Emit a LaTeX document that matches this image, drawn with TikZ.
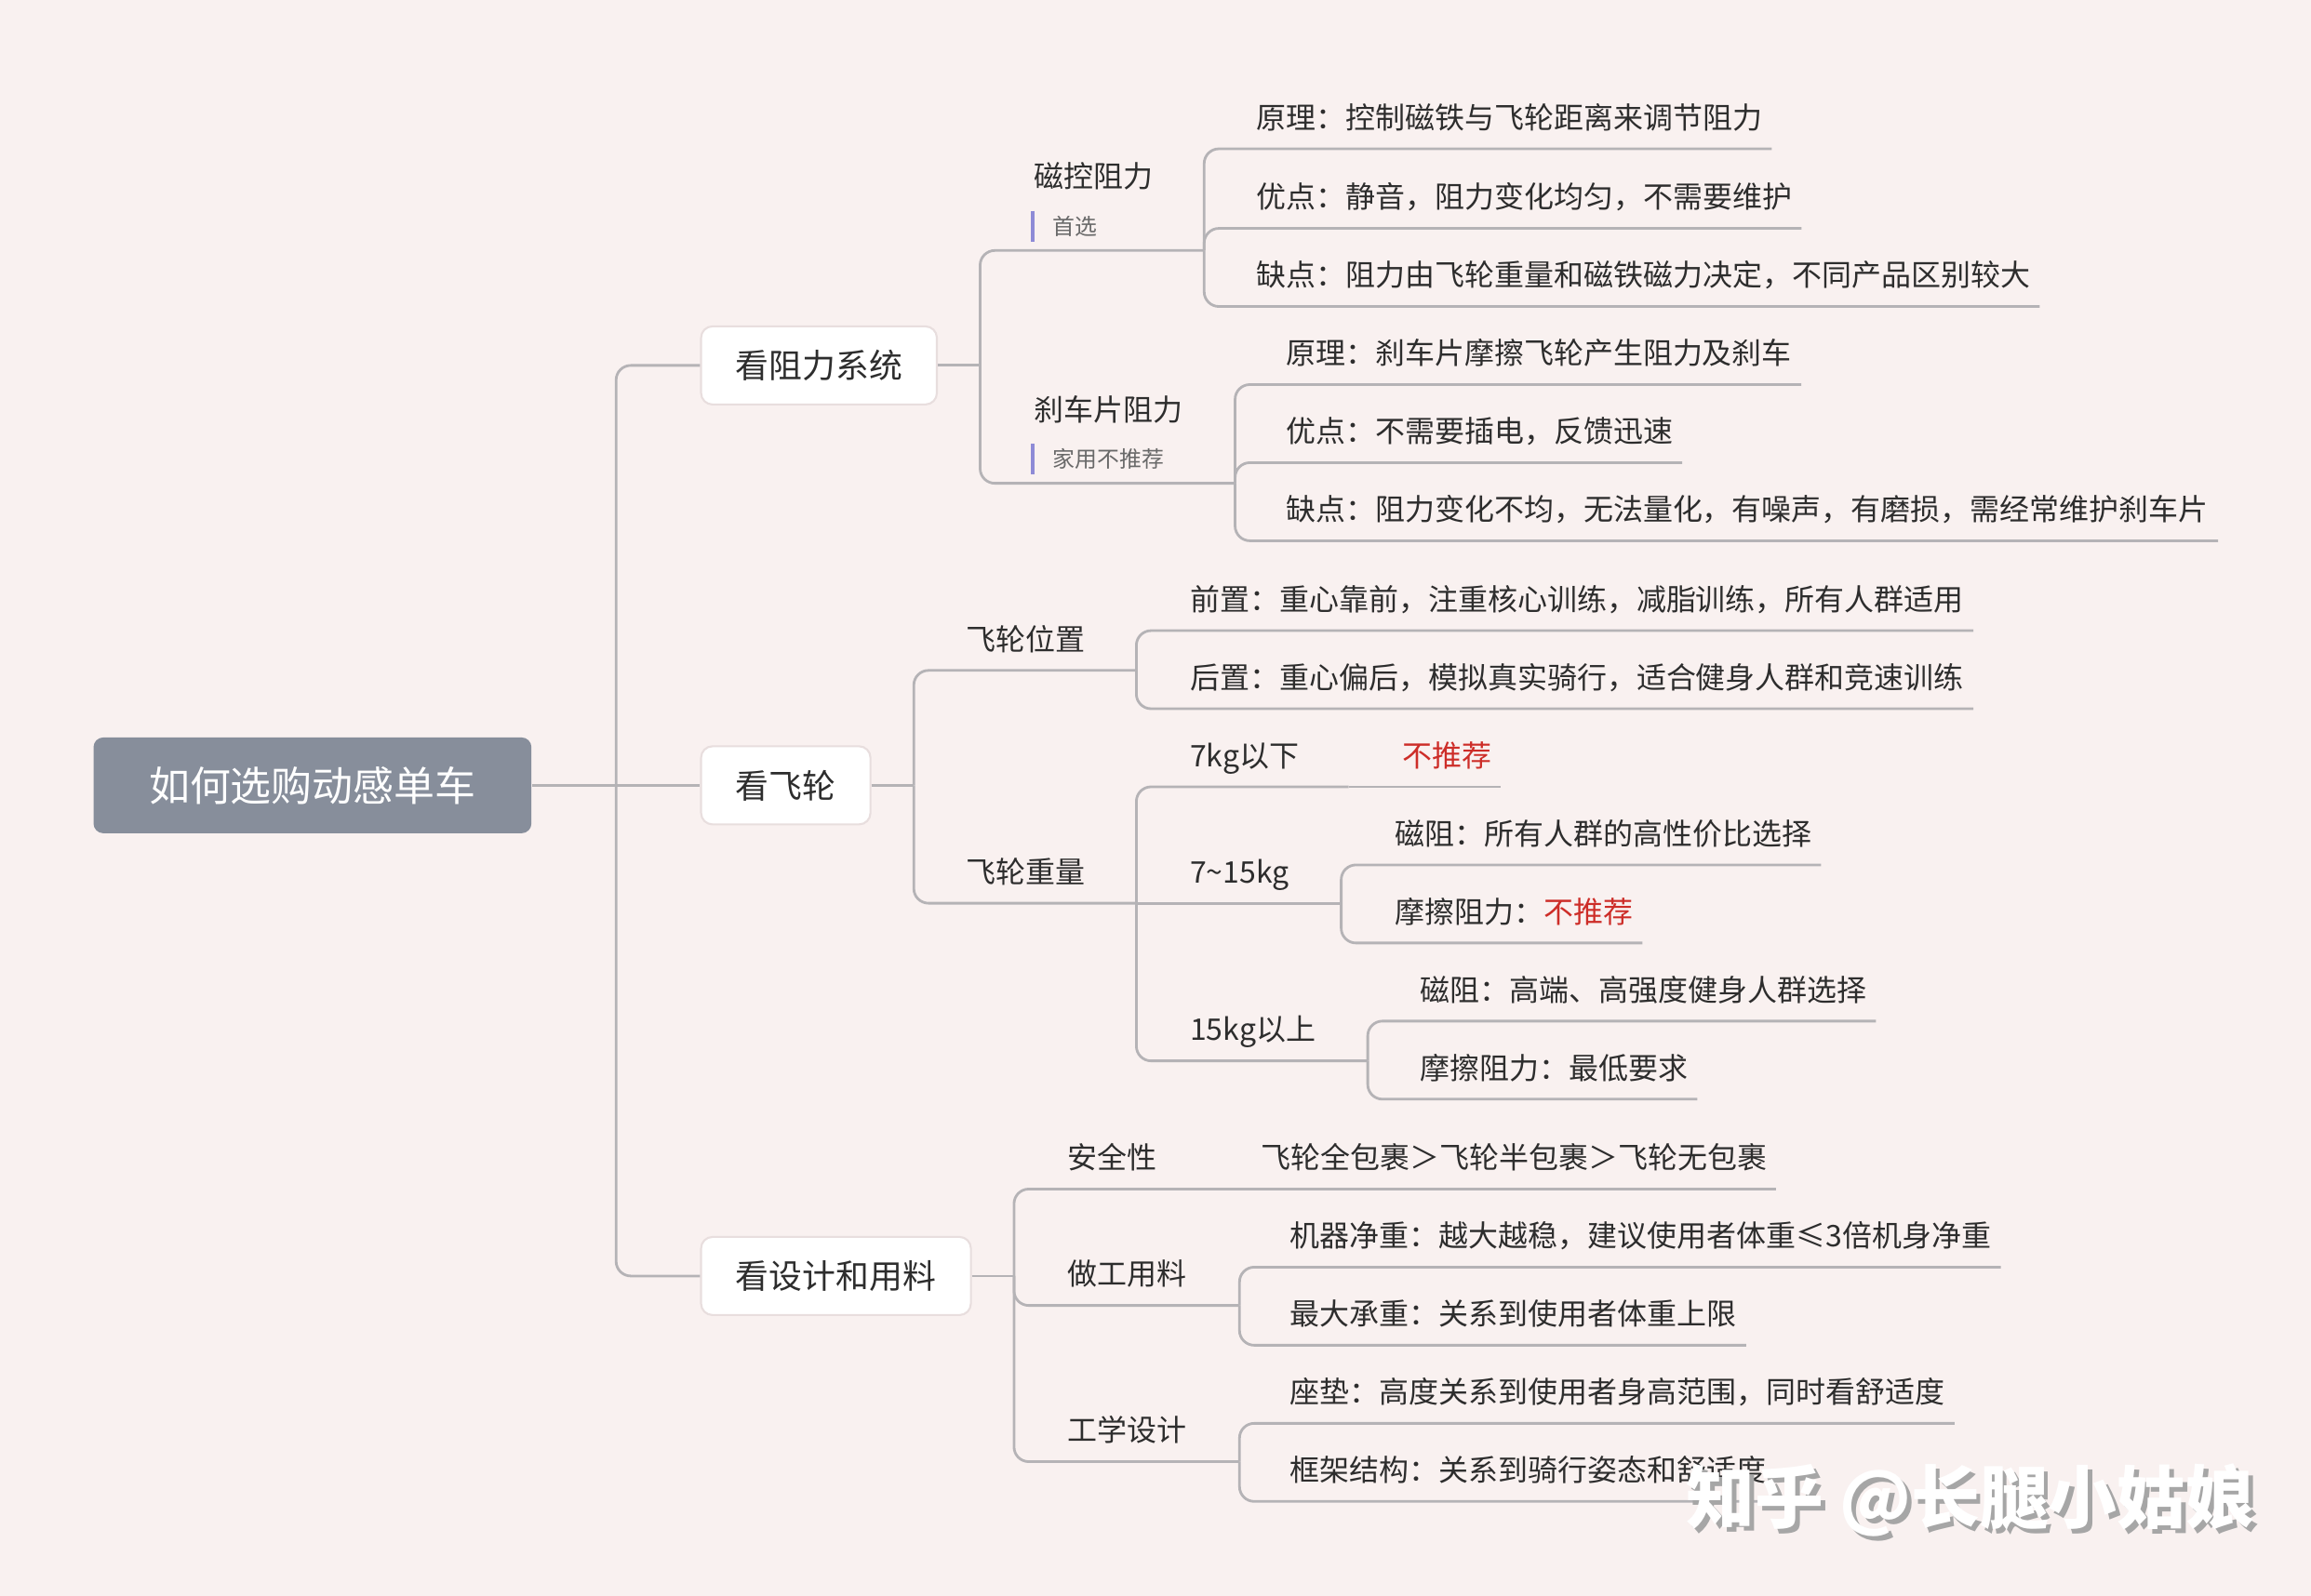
\documentclass[tikz,border=0pt]{standalone}
\usepackage{fontspec}
\setmainfont{Noto Sans CJK SC}
\usetikzlibrary{calc}
\definecolor{bgpink}{RGB}{249,241,240}
\definecolor{rootgray}{RGB}{135,142,155}
\definecolor{linegray}{RGB}{181,179,182}
\definecolor{boxedge}{RGB}{232,222,222}
\definecolor{txtdark}{RGB}{45,45,45}
\definecolor{notegray}{RGB}{105,105,105}
\definecolor{barblue}{RGB}{142,139,214}
\definecolor{warnred}{RGB}{205,45,40}
\definecolor{shadowgray}{RGB}{166,166,166}

\begin{document}
\begin{tikzpicture}[x=0.015842cm,y=-0.015842cm,
   link/.style={draw=linegray,line width=0.8pt,rounded corners=4.5pt},
   rootbox/.style={anchor=west,fill=rootgray,text=white,rounded corners=3pt,
              minimum width=133.9pt,minimum height=29.3pt,inner sep=0pt,
              font=\fontsize{12.5pt}{15pt}\selectfont},
   mainbox/.style={anchor=west,draw=boxedge,line width=0.6pt,fill=white,
              rounded corners=3.5pt,minimum height=23.9pt,inner sep=0pt,
              text=txtdark,font=\fontsize{10.2pt}{12pt}\selectfont},
   tp/.style={anchor=south west,inner sep=0pt,text height=7pt,text depth=6pt,
              text=txtdark,font=\fontsize{9.1pt}{11pt}\selectfont},
   note/.style={anchor=west,inner sep=0pt,text=notegray,
              font=\fontsize{6.8pt}{8pt}\selectfont},
   notebar/.style={draw=barblue,line width=1.1pt},
   wmark/.style={font=\fontsize{21pt}{25pt}\selectfont\bfseries}]
  \fill[bgpink] (0,0) rectangle (1568,1083);
  \useasboundingbox (0,0) rectangle (1568,1083);

  % root and the three main topics
  \node[rootbox] (root) at (63,533) {如何选购动感单车};
  \node[mainbox,minimum width=72.1pt] (zl) at (475,248) {看阻力系统};
  \node[mainbox,minimum width=51.8pt] (fl) at (475,533) {看飞轮};
  \node[mainbox,minimum width=82.5pt] (sj) at (475,866) {看设计和用料};
  \coordinate (root-o) at (418,533);
  \draw[link] (root.east) -- (root-o);
  \draw[link] (root-o) |- (zl.west);
  \draw[link] (root-o) -- (fl.west);
  \draw[link] (root-o) |- (sj.west);

  % 看阻力系统
  \coordinate (zl-o) at (665,248);
  \draw[link] (zl.east) -- (zl-o);
  \node[tp,text depth=19pt] (ck) at (701,170) {磁控阻力};
  \node[note] (ck-n) at (714,153.5) {首选};
  \draw[notebar] ([xshift=-5.9pt]ck-n.west) ++(0,-10.5) -- ++(0,21);
  \coordinate (ck-o) at (817,170);
  \draw[link] (zl-o) |- (ck.south west) -- (ck-o);
  \node[tp] (ck1) at (852,101) {原理：控制磁铁与飞轮距离来调节阻力};
  \node[tp] (ck2) at (852,155) {优点：静音，阻力变化均匀，不需要维护};
  \node[tp] (ck3) at (852,208) {缺点：阻力由飞轮重量和磁铁磁力决定，不同产品区别较大};
  \draw[link] (ck-o) |- (ck1.south west) -- ([xshift=2.7pt]ck1.south east);
  \draw[link] (ck-o) |- (ck2.south west) -- ([xshift=2.7pt]ck2.south east);
  \draw[link] (ck-o) |- (ck3.south west) -- ([xshift=2.7pt]ck3.south east);

  \node[tp,text depth=19pt] (sc) at (701,328) {刹车片阻力};
  \node[note] (sc-n) at (714,311.5) {家用不推荐};
  \draw[notebar] ([xshift=-5.9pt]sc-n.west) ++(0,-10.5) -- ++(0,21);
  \coordinate (sc-o) at (838,328);
  \draw[link] (zl-o) |- (sc.south west) -- (sc-o);
  \node[tp] (sc1) at (872,261) {原理：刹车片摩擦飞轮产生阻力及刹车};
  \node[tp] (sc2) at (872,314) {优点：不需要插电，反馈迅速};
  \node[tp] (sc3) at (872,367) {缺点：阻力变化不均，无法量化，有噪声，有磨损，需经常维护刹车片};
  \draw[link] (sc-o) |- (sc1.south west) -- ([xshift=2.7pt]sc1.south east);
  \draw[link] (sc-o) |- (sc2.south west) -- ([xshift=2.7pt]sc2.south east);
  \draw[link] (sc-o) |- (sc3.south west) -- ([xshift=2.7pt]sc3.south east);

  % 看飞轮
  \coordinate (fl-o) at (620,533);
  \draw[link] (fl.east) -- (fl-o);
  \node[tp] (wz) at (655,455) {飞轮位置};
  \coordinate (wz-o) at (771,455);
  \draw[link] (fl-o) |- (wz.south west) -- (wz-o);
  \node[tp] (wz1) at (807,428) {前置：重心靠前，注重核心训练，减脂训练，所有人群适用};
  \node[tp] (wz2) at (807,481) {后置：重心偏后，模拟真实骑行，适合健身人群和竞速训练};
  \draw[link] (wz-o) |- (wz1.south west) -- ([xshift=2.7pt]wz1.south east);
  \draw[link] (wz-o) |- (wz2.south west) -- ([xshift=2.7pt]wz2.south east);

  \node[tp] (zh) at (655,613) {飞轮重量};
  \coordinate (zh-o) at (771,613);
  \draw[link] (fl-o) |- (zh.south west) -- (zh-o);
  \node[tp] (zh1) at (807,534) {7kg以下};
  \coordinate (zh1-o) at (915,534);
  \draw[link] (zh-o) |- (zh1.south west) -- (zh1-o);
  \node[tp,text=warnred] (zh1a) at (951,534) {不推荐};
  \draw[link] (zh1-o) -- (zh1a.south west) -- ([xshift=2.7pt]zh1a.south east);

  \node[tp] (zh2) at (807,613) {7\textasciitilde 15kg};
  \coordinate (zh2-o) at (910,613);
  \draw[link] (zh-o) -- (zh2.south west) -- (zh2-o);
  \node[tp] (zh2a) at (946,587) {磁阻：所有人群的高性价比选择};
  \node[tp] (zh2b) at (946,640) {摩擦阻力：\textcolor{warnred}{不推荐}};
  \draw[link] (zh2-o) |- (zh2a.south west) -- ([xshift=2.7pt]zh2a.south east);
  \draw[link] (zh2-o) |- (zh2b.south west) -- ([xshift=2.7pt]zh2b.south east);

  \node[tp] (zh3) at (807,720) {15kg以上};
  \coordinate (zh3-o) at (928,720);
  \draw[link] (zh-o) |- (zh3.south west) -- (zh3-o);
  \node[tp] (zh3a) at (963,693) {磁阻：高端、高强度健身人群选择};
  \node[tp] (zh3b) at (963,746) {摩擦阻力：最低要求};
  \draw[link] (zh3-o) |- (zh3a.south west) -- ([xshift=2.7pt]zh3a.south east);
  \draw[link] (zh3-o) |- (zh3b.south west) -- ([xshift=2.7pt]zh3b.south east);

  % 看设计和用料
  \coordinate (sj-o) at (688,866);
  \draw[link] (sj.east) -- (sj-o);
  \node[tp] (aq) at (724,807) {安全性};
  \coordinate (aq-o) at (819,807);
  \draw[link] (sj-o) |- (aq.south west) -- (aq-o);
  \node[tp] (aq1) at (855,807) {飞轮全包裹＞飞轮半包裹＞飞轮无包裹};
  \draw[link] (aq-o) -- (aq1.south west) -- ([xshift=2.7pt]aq1.south east);

  \node[tp] (zg) at (724,886) {做工用料};
  \coordinate (zg-o) at (841,886);
  \draw[link] (sj-o) |- (zg.south west) -- (zg-o);
  \node[tp] (zg1) at (875,860) {机器净重：越大越稳，建议使用者体重≤3倍机身净重};
  \node[tp] (zg2) at (875,913) {最大承重：关系到使用者体重上限};
  \draw[link] (zg-o) |- (zg1.south west) -- ([xshift=2.7pt]zg1.south east);
  \draw[link] (zg-o) |- (zg2.south west) -- ([xshift=2.7pt]zg2.south east);

  \node[tp] (gx) at (724,992) {工学设计};
  \coordinate (gx-o) at (841,992);
  \draw[link] (sj-o) |- (gx.south west) -- (gx-o);
  \node[tp] (gx1) at (875,966) {座垫：高度关系到使用者身高范围，同时看舒适度};
  \node[tp] (gx2) at (875,1019) {框架结构：关系到骑行姿态和舒适度};
  \draw[link] (gx-o) |- (gx1.south west) -- ([xshift=2.7pt]gx1.south east);
  \draw[link] (gx-o) |- (gx2.south west) -- ([xshift=2.7pt]gx2.south east);

  % watermark
  \node[wmark,text=shadowgray] (wm-s) at (1340,1021) {知乎 @长腿小姑娘};
  \node[wmark,text=white] (wm) at (1337,1018) {知乎 @长腿小姑娘};
\end{tikzpicture}
\end{document}
